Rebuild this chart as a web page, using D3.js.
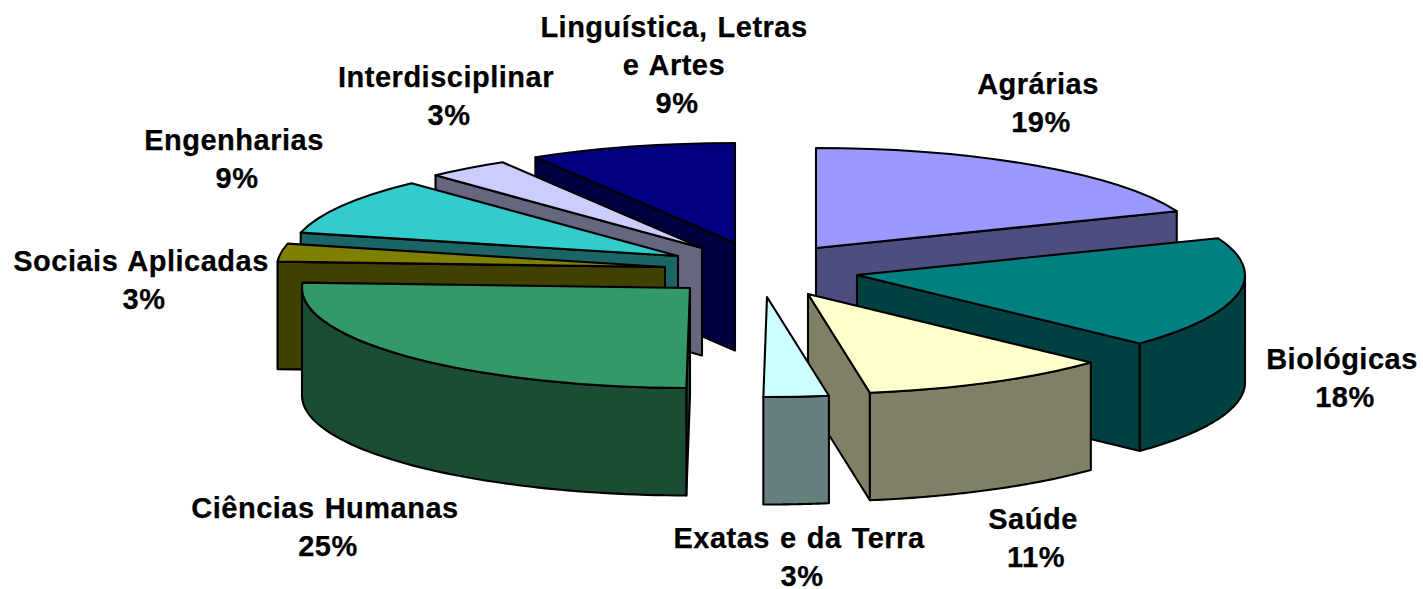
<!DOCTYPE html>
<html><head><meta charset="utf-8">
<script src="https://cdn.jsdelivr.net/npm/d3@7"></script>
<style>html,body{margin:0;padding:0;background:#fff}svg{display:block}
text{font-family:"Liberation Sans",Arial,sans-serif;font-weight:700;font-size:29px;letter-spacing:.5px;word-spacing:1.5px;fill:#000;text-anchor:middle;stroke:#000;stroke-width:.25px}</style>
</head><body><div id="chart"></div>
<script>
// Data, clockwise from 12 o'clock
const categories = ["Agrárias","Biológicas","Saúde","Exatas e da Terra","Ciências Humanas","Sociais Aplicadas","Engenharias","Interdisciplinar","Linguística, Letras\ne Artes"];
const values = [19, 18, 10.45, 2.7, 25.7, 2.9, 9.2, 3.45, 8.6];
const percentLabels = ["19%","18%","11%","3%","25%","3%","9%","3%","9%"];

// Styling and layout, separate from the data
const topColors = ["#9999ff","#008080","#ffffcc","#ccffff","#339966","#808000","#33cccc","#ccccff","#000080"];
const sideColors = ["#4d4d80","#004040","#808066","#668080","#1a4d33","#404000","#1a6666","#666680","#000040"];
const apexes = [[816,248],[857,275],[808,294],[767,297],[690,288],[665,267],[678,256],[702,248],[735,243]];
const labelPos = [[1038,94],[1342,369],[1033,529],[799,548],[325,518],[141,271],[234,150],[446,87],[674,37]];
const percentShift = 3;
const drawOrder = [8,7,6,5,4,0,1,2,3];
const W=1423,H=589,rx=388,ry=100,depth=107.5,lineGap=38;

const svg=d3.select("#chart").append("svg").attr("width",W).attr("height",H);
const slices=d3.pie().value(d=>d).sort(null)(values);
const arc=d3.arc().innerRadius(0).outerRadius(rx);
const line=d3.line();
const PI=Math.PI;
const pt=(a,t,z=0)=>[a[0]+rx*Math.sin(t),a[1]-ry*Math.cos(t)+z];

drawOrder.forEach(i=>{
  const s=slices[i],a=apexes[i],g=svg.append("g");
  const style=sel=>sel.attr("stroke","#000").attr("stroke-width",2.1).attr("stroke-linejoin","round");
  // radial cut faces
  const face=t=>[a,pt(a,t),pt(a,t,depth),[a[0],a[1]+depth]];
  if(Math.sin(s.endAngle)>0) style(g.append("path").attr("d",line(face(s.endAngle))+"Z").attr("fill",sideColors[i]));
  if(Math.sin(s.startAngle)<0) style(g.append("path").attr("d",line(face(s.startAngle))+"Z").attr("fill",sideColors[i]));
  // outer wall (front half only)
  const t0=Math.max(s.startAngle,PI/2),t1=Math.min(s.endAngle,PI*1.5);
  if(t1>t0){
    const ts=d3.range(0,61).map(k=>t0+(t1-t0)*k/60);
    const pts=ts.map(t=>pt(a,t)).concat(ts.slice().reverse().map(t=>pt(a,t,depth)));
    style(g.append("path").attr("d",line(pts)+"Z").attr("fill",sideColors[i]));
  }
  // top surface
  style(g.append("path")
    .attr("d",arc(s))
    .attr("transform",`translate(${a[0]},${a[1]}) scale(1,${ry/rx})`)
    .attr("vector-effect","non-scaling-stroke")
    .attr("fill",topColors[i]));
});

categories.forEach((c,i)=>{
  const lines=c.split("\n").concat(percentLabels[i]);
  lines.forEach((l,k)=>svg.append("text")
    .attr("x",labelPos[i][0]+(k===lines.length-1?percentShift:0))
    .attr("y",labelPos[i][1]+k*lineGap).text(l));
});
</script></body></html>
